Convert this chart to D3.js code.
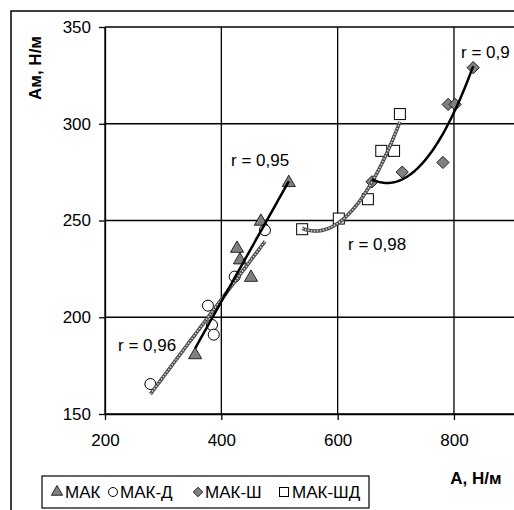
<!DOCTYPE html>
<html>
<head>
<meta charset="utf-8">
<script src="https://cdn.jsdelivr.net/npm/d3@7"></script>
<style>
  body { margin: 0; background: #fff; }
  text { font-family: Arial, "Liberation Sans", sans-serif; }
</style>
</head>
<body>
<div id="chart"></div>
<script>
'use strict';

// МАК (triangles)
var makX = [355, 427, 432, 451, 468, 516];
var makY = [180, 235, 229, 220, 249, 269];
// МАК-Д (circles)
var makdX = [278, 377, 384, 387, 423, 475];
var makdY = [165.5, 206, 196, 191, 221, 245];
// МАК-Ш (diamonds)
var makshX = [659, 711, 781, 790, 802, 833];
var makshY = [270, 275, 280, 310, 310, 329];
// МАК-ШД (squares)
var makshdX = [539, 602, 652, 675, 697, 707];
var makshdY = [245.5, 251, 261, 286, 286, 305];

var xTicks = [200, 400, 600, 800];
var yTicks = [150, 200, 250, 300, 350];
var legendNames = ['МАК', 'МАК-Д', 'МАК-Ш', 'МАК-ШД'];
var rLabels = ['r = 0,95', 'r = 0,96', 'r = 0,98', 'r = 0,9'];

var W = 514, H = 510;
var svg = d3.select('#chart').append('svg').attr('width', W).attr('height', H);

// outer chart border (clipped on right and bottom)
svg.append('rect').attr('x', 11).attr('y', 11).attr('width', 600).attr('height', 600)
  .attr('fill', '#fff').attr('stroke', '#000').attr('stroke-width', 1.5);

var x = d3.scaleLinear().domain([200, 1000]).range([105, 570.3]);
var y = d3.scaleLinear().domain([150, 350]).range([414, 27]);

var g = svg.append('g');

// gridlines
g.selectAll('.hgrid').data(yTicks).enter().append('line')
  .attr('x1', x(200)).attr('x2', x(1000))
  .attr('y1', d => y(d)).attr('y2', d => y(d))
  .attr('stroke', '#000').attr('stroke-width', 1.3);
g.selectAll('.vgrid').data(xTicks).enter().append('line')
  .attr('x1', d => x(d)).attr('x2', d => x(d))
  .attr('y1', y(150)).attr('y2', y(350))
  .attr('stroke', '#000').attr('stroke-width', 1.3);

// axes
var xAxis = d3.axisBottom(x).tickValues(xTicks).tickSize(6).tickSizeOuter(0).tickPadding(14);
var yAxis = d3.axisLeft(y).tickValues(yTicks).tickSize(6).tickSizeOuter(0).tickPadding(8);
var gx = g.append('g').attr('transform', 'translate(0,' + y(150) + ')').call(xAxis);
var gy = g.append('g').attr('transform', 'translate(' + x(200) + ',0)').call(yAxis);
[gx, gy].forEach(function(a) {
  a.select('.domain').attr('stroke', '#000').attr('stroke-width', 1.3);
  a.selectAll('.tick line').attr('stroke', '#000').attr('stroke-width', 1.3);
  a.selectAll('.tick text').attr('fill', '#000').style('font-size', '17px')
    .style('font-family', 'Arial, "Liberation Sans", sans-serif');
});

// axis titles
svg.append('text').attr('transform', 'translate(41,68) rotate(-90)')
  .attr('text-anchor', 'middle').style('font-size', '17px').style('font-weight', 'bold')
  .text('Ам, Н/м');
svg.append('text').attr('x', 476).attr('y', 484)
  .attr('text-anchor', 'middle').style('font-size', '17px').style('font-weight', 'bold')
  .text('А, Н/м');

// regressions
function linFit(xs, ys) {
  var mx = d3.mean(xs), my = d3.mean(ys);
  var sxy = d3.sum(xs, (v, i) => (v - mx) * (ys[i] - my));
  var sxx = d3.sum(xs, v => (v - mx) * (v - mx));
  var b = sxy / sxx;
  return v => my + b * (v - mx);
}
function quadFit(xs, ys) {
  // normal equations for y = a + b x + c x^2 (centred x)
  var m = d3.mean(xs);
  var s = [0, 0, 0, 0, 0], t = [0, 0, 0];
  xs.forEach(function(v, i) {
    var u = v - m;
    for (var k = 0; k < 5; k++) s[k] += Math.pow(u, k);
    for (var k2 = 0; k2 < 3; k2++) t[k2] += ys[i] * Math.pow(u, k2);
  });
  var A = [[s[0], s[1], s[2], t[0]], [s[1], s[2], s[3], t[1]], [s[2], s[3], s[4], t[2]]];
  for (var c = 0; c < 3; c++) {
    for (var r = c + 1; r < 3; r++) {
      var f = A[r][c] / A[c][c];
      for (var k3 = c; k3 < 4; k3++) A[r][k3] -= f * A[c][k3];
    }
  }
  var sol = [0, 0, 0];
  for (var r2 = 2; r2 >= 0; r2--) {
    var acc = A[r2][3];
    for (var k4 = r2 + 1; k4 < 3; k4++) acc -= A[r2][k4] * sol[k4];
    sol[r2] = acc / A[r2][r2];
  }
  return v => sol[0] + sol[1] * (v - m) + sol[2] * (v - m) * (v - m);
}
function curve(xs, fn) {
  var lo = d3.min(xs), hi = d3.max(xs);
  return d3.range(0, 61).map(i => { var v = lo + (hi - lo) * i / 60; return [x(v), y(fn(v))]; });
}
var line = d3.line();

function drawChain(pts) {
  g.append('path').attr('d', line(pts)).attr('fill', 'none')
    .attr('stroke', '#4a4a4a').attr('stroke-width', 3.6);
  g.append('path').attr('d', line(pts)).attr('fill', 'none')
    .attr('stroke', '#d8d8d8').attr('stroke-width', 1.5).attr('stroke-dasharray', '1.5,1.5');
}
function drawSolid(pts) {
  g.append('path').attr('d', line(pts)).attr('fill', 'none')
    .attr('stroke', '#000').attr('stroke-width', 2.5);
}

// markers
var triangle = d3.symbol().type(d3.symbolTriangle).size(75);
var diamond = d3.symbol().type(d3.symbolSquare).size(75);
function pts(xs, ys) { return xs.map((v, i) => [v, ys[i]]); }

g.selectAll('.tri').data(pts(makX, makY)).enter().append('path')
  .attr('d', triangle).attr('transform', d => 'translate(' + x(d[0]) + ',' + (y(d[1]) - 1) + ')')
  .attr('fill', '#808080').attr('stroke', '#000').attr('stroke-width', 0.8);
g.selectAll('.circ').data(pts(makdX, makdY)).enter().append('circle')
  .attr('cx', d => x(d[0])).attr('cy', d => y(d[1])).attr('r', 5.5)
  .attr('fill', '#fff').attr('stroke', '#000').attr('stroke-width', 1);
g.selectAll('.dia').data(pts(makshX, makshY)).enter().append('path')
  .attr('d', diamond).attr('transform', d => 'translate(' + x(d[0]) + ',' + y(d[1]) + ') rotate(45)')
  .attr('fill', '#808080').attr('stroke', '#000').attr('stroke-width', 0.8);
g.selectAll('.sq').data(pts(makshdX, makshdY)).enter().append('rect')
  .attr('x', d => x(d[0]) - 5.5).attr('y', d => y(d[1]) - 5.5).attr('width', 11).attr('height', 11)
  .attr('fill', '#fff').attr('stroke', '#000').attr('stroke-width', 1);

// trend lines
drawChain(curve(makdX, linFit(makdX, makdY)));
drawSolid(curve(makX, linFit(makX, makY)));
drawChain(curve(makshdX, quadFit(makshdX, makshdY)));
drawSolid(curve(makshX, quadFit(makshX, makshY)));

// r labels
var rPos = [[231, 166], [118, 351], [348, 250], [461, 58]];
svg.selectAll('.rlab').data(rLabels).enter().append('text')
  .attr('x', (d, i) => rPos[i][0]).attr('y', (d, i) => rPos[i][1])
  .style('font-size', '17px').text(d => d);

// legend
var lg = svg.append('g');
lg.append('rect').attr('x', 42).attr('y', 476).attr('width', 327).attr('height', 32)
  .attr('fill', '#fff').attr('stroke', '#000').attr('stroke-width', 1.2);
var legX = [57, 113, 198, 284];
var textX = [65, 120, 205, 292];
lg.append('path').attr('d', d3.symbol().type(d3.symbolTriangle).size(55))
  .attr('transform', 'translate(' + legX[0] + ',492)').attr('fill', '#808080').attr('stroke', '#000').attr('stroke-width', 0.8);
lg.append('circle').attr('cx', legX[1]).attr('cy', 492).attr('r', 4.5)
  .attr('fill', '#fff').attr('stroke', '#000');
lg.append('path').attr('d', d3.symbol().type(d3.symbolSquare).size(45))
  .attr('transform', 'translate(' + legX[2] + ',492) rotate(45)').attr('fill', '#808080').attr('stroke', '#000').attr('stroke-width', 0.8);
lg.append('rect').attr('x', legX[3] - 4.5).attr('y', 487.5).attr('width', 9).attr('height', 9)
  .attr('fill', '#fff').attr('stroke', '#000');
lg.selectAll('.lt').data(legendNames).enter().append('text')
  .attr('x', (d, i) => textX[i]).attr('y', 498)
  .style('font-size', '17px').text(d => d);
</script>
</body>
</html>
